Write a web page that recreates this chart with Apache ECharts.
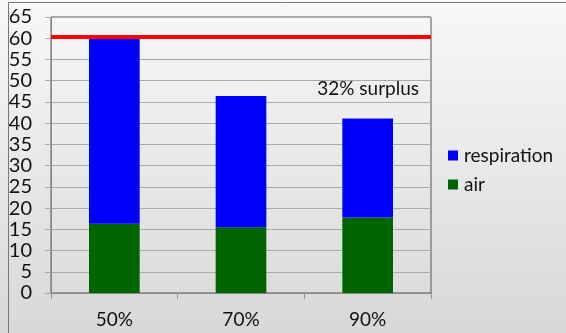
<!DOCTYPE html>
<html>
<head>
<meta charset="utf-8">
<script src="https://cdn.jsdelivr.net/npm/echarts@6/dist/echarts.min.js"></script>
<style>
  html, body { margin: 0; padding: 0; }
  #chart { width: 566px; height: 333px; }
</style>
</head>
<body>
<div id="chart"></div>
<script>
// Categories and stacked components
const categories = ['50%', '70%', '90%'];
const airValues = [16.3, 15.5, 17.8];
const respirationValues = [43.7, 30.9, 23.3];
// Reference level drawn as a horizontal red line
const limitValue = 60.4;
const yTicks = { min: 0, max: 65, interval: 5 };
const noteText = '32% surplus';

const FONT = 'Lato, "Open Sans", sans-serif';

const chart = echarts.init(document.getElementById('chart'));
chart.setOption({
  animation: false,
  backgroundColor: {
    type: 'linear', x: 0, y: 0, x2: 0, y2: 1,
    colorStops: [
      { offset: 0, color: '#f8f8f8' },
      { offset: 1, color: '#d8d8d8' }
    ]
  },
  grid: {
    left: 51, right: 135, top: 17, bottom: 40,
    show: true, borderColor: '#555', borderWidth: 1,
    backgroundColor: 'transparent'
  },
  legend: {
    orient: 'vertical',
    left: 443, top: 141,
    itemWidth: 10, itemHeight: 10, itemGap: 10,
    icon: 'rect',
    data: ['respiration', 'air'],
    textStyle: { fontFamily: FONT, fontSize: 19, color: '#111', padding: [0, 0, 0, 1] }
  },
  xAxis: {
    type: 'category',
    data: categories,
    axisLine: { lineStyle: { color: '#888', width: 1 } },
    axisTick: { show: true, length: 6, lineStyle: { color: '#999' } },
    axisLabel: { fontFamily: FONT, fontSize: 19, color: '#111', margin: 17 }
  },
  yAxis: {
    type: 'value',
    min: yTicks.min, max: yTicks.max, interval: yTicks.interval,
    axisLine: { show: true, lineStyle: { color: '#888', width: 1 } },
    axisTick: { show: true, length: 6, lineStyle: { color: '#aaa' } },
    splitLine: { lineStyle: { color: '#aaa', width: 1 } },
    axisLabel: { fontFamily: FONT, fontSize: 20, color: '#111', margin: 19 }
  },
  series: [
    {
      name: 'air', type: 'bar', stack: 'total',
      data: airValues, barWidth: '40%',
      itemStyle: { color: '#006400' }
    },
    {
      name: 'respiration', type: 'bar', stack: 'total',
      data: respirationValues, barWidth: '40%',
      itemStyle: { color: '#0000ff' },
      markLine: {
        silent: true,
        symbol: ['none', 'none'],
        label: { show: false },
        lineStyle: { color: '#ff0000', width: 4, type: 'solid' },
        data: [{ yAxis: limitValue }]
      }
    }
  ],
  graphic: [
    {
      type: 'text',
      right: 147, top: 79,
      style: { text: noteText, fontFamily: FONT, fontSize: 19, fill: '#111' }
    },
    {
      type: 'rect', left: 6, top: 0, silent: true,
      shape: { width: 559, height: 333 },
      style: { fill: 'none', stroke: '#777', lineWidth: 1 }
    }
  ]
});
</script>
</body>
</html>
